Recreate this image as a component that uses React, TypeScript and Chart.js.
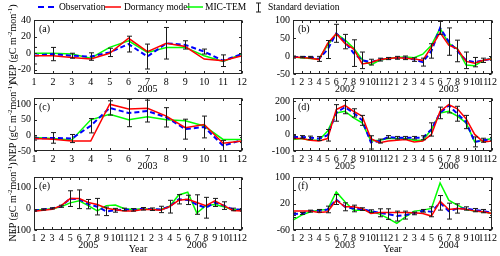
import React, { useEffect, useRef } from "react";
import { Chart, registerables } from "chart.js";
Chart.register(...registerables);

const FONT = '"Liberation Serif", "Times New Roman", Times, serif';

const months12 = ["1", "2", "3", "4", "5", "6", "7", "8", "9", "10", "11", "12"];
const months24 = [...months12, ...months12];

// (a) 2005
const aObs = [-3, -1, -3, -4, 1, 11, -4, 12, 10, 2, -9, -1];
const aSd = [10, 8, 3, 4.5, 5, 9.5, 15, 19, 5, 3, 7, 10];
const aDorm = [-3, -3, -5, -7, 0, 18, 2, 12, 8, -7, -9, -3];
const aMic = [0, 0, -1, -6, 7, 15, 1, 7, 7, -3, -10, -1];
const aYTicks = [-20, 0, 20, 40];
const aYears = ["2005"];

// (b) 2002-2003
const bObs = [-3, -3, -3, -8, 18, 63, 40, 8, -12, -17, -10, -7, -5, -5, -10, -17, 14, 78, 40, 14, -12, -17, -12, -8];
const bSd = [3, 2, 2, 7, 25, 25, 20, 37, 23, 8, 4, 3, 4, 5, 5, 11, 20, 18, 38, 30, 23, 13, 6, 4];
const bDorm = [-3, -4, -6, -10, 35, 62, 35, 20, -22, -18, -10, -7, -5, -6, -8, -12, 25, 65, 30, 20, -15, -20, -12, -8];
const bMic = [-3, -5, -7, -8, 30, 62, 45, 22, -10, -25, -12, -7, -4, -3, -5, 5, 30, 77, 35, 20, -25, -27, -12, -7];
const bYTicks = [-50, 0, 50, 100];
const bYears = ["2002", "2003"];

// (c) 2003
const cObs = [-10, -8, -10, 31, 88, 72, 78, 58, 20, 27, -33, -15];
const cSd = [5, 17, 13, 23, 23, 44, 35, 31, 32, 35, 17, 8];
const cDorm = [-10, -12, -18, -18, 100, 85, 87, 62, 25, 35, -25, -18];
const cMic = [-7, -10, -15, 50, 68, 50, 60, 50, 47, 30, -13, -13];
const cYTicks = [-50, 0, 50, 100];
const cYears = ["2003"];

// (d) 2005-2006
const dObs = [-15, -15, -20, -25, -5, 130, 165, 130, 85, -48, -40, -15, -20, -20, -20, -20, 30, 130, 175, 125, 75, -45, -35, -28];
const dSd = [8, 8, 10, 12, 35, 50, 40, 25, 30, 40, 12, 8, 8, 8, 8, 12, 40, 35, 45, 45, 40, 30, 12, 10];
const dDorm = [-25, -25, -35, -40, -25, 150, 175, 140, 110, -25, -50, -40, -35, -30, -45, -40, 0, 140, 180, 155, 95, 0, -45, -40];
const dMic = [-30, -25, -35, -35, 20, 130, 140, 100, 70, -40, -35, -25, -25, -25, -35, -35, 30, 130, 140, 110, 70, -45, -35, -25];
const dYTicks = [-100, 0, 100, 200];
const dYears = ["2005", "2006"];

// (e) 2005-2006
const eObs = [-8, -3, 2, 12, 48, 45, 22, 10, -12, -7, -3, -5, 0, -2, -3, 10, 45, 42, 20, 5, 30, 15, -3, -5];
const eSd = [3, 3, 3, 5, 37, 44, 22, 39, 20, 9, 6, 6, 6, 6, 15, 30, 22, 22, 46, 49, 19, 18, 6, 6];
const eDorm = [-12, -7, -2, 15, 48, 48, 30, 20, 3, -5, -10, -10, -3, -3, -7, 10, 40, 45, 30, 15, 37, 15, -8, -10];
const eMic = [-5, -5, 0, 10, 28, 38, 15, -10, 15, 18, 0, -3, 0, -3, -3, 12, 65, 78, -20, 15, 20, 10, -5, -3];
const eYTicks = [-100, 0, 100];
const eYears = ["2005", "2006"];

// (f) 2003-2004
const fObs = [-12, -10, -3, -2, 2, 32, 10, 5, 3, -3, -8, -12, -18, -15, -10, -2, -5, 22, -3, 5, 5, 0, -3, -8];
const fSd = [4, 3, 3, 4, 10, 15, 12, 10, 4, 4, 12, 16, 15, 12, 4, 4, 15, 22, 24, 14, 5, 5, 5, 8];
const fDorm = [-3, -3, -3, -7, -5, 30, 10, 10, 5, -10, -7, -7, -7, -7, -8, -10, -18, 27, 2, 5, 3, -3, -5, -10];
const fMic = [-30, -15, -5, 0, 2, 55, 25, 0, 0, -3, -12, -25, -40, -20, -3, 0, 5, 82, 30, 15, 2, -3, -5, -10];
const fYTicks = [-60, -20, 20, 60, 100];
const fYears = ["2003", "2004"];

const seriesNames = ["Observation", "Dormancy model", "MIC-TEM", "Standard deviation"];

type Spec = {
  letter: string;
  labels: string[];
  obs: number[];
  sd: number[];
  dorm: number[];
  mic: number[];
  yMin: number;
  yMax: number;
  yTicks: number[];
  years: string[];
  xTitle: boolean;
  left: number;
  top: number;
  w: number;
  h: number;
};

const L = 34, LW = 208, R = 293, RW = 199;
const panels: Spec[] = [
  { letter: "(a)", labels: months12, obs: aObs, sd: aSd, dorm: aDorm, mic: aMic, yMin: -25, yMax: 40, yTicks: aYTicks, years: aYears, xTitle: false, left: L, top: 17, w: LW, h: 57 },
  { letter: "(b)", labels: months24, obs: bObs, sd: bSd, dorm: bDorm, mic: bMic, yMin: -50, yMax: 100, yTicks: bYTicks, years: bYears, xTitle: false, left: R, top: 17, w: RW, h: 57 },
  { letter: "(c)", labels: months12, obs: cObs, sd: cSd, dorm: cDorm, mic: cMic, yMin: -50, yMax: 120, yTicks: cYTicks, years: cYears, xTitle: false, left: L, top: 95, w: LW, h: 56 },
  { letter: "(d)", labels: months24, obs: dObs, sd: dSd, dorm: dDorm, mic: dMic, yMin: -100, yMax: 220, yTicks: dYTicks, years: dYears, xTitle: false, left: R, top: 95, w: RW, h: 56 },
  { letter: "(e)", labels: months24, obs: eObs, sd: eSd, dorm: eDorm, mic: eMic, yMin: -100, yMax: 150, yTicks: eYTicks, years: eYears, xTitle: true, left: L, top: 174, w: LW, h: 56 },
  { letter: "(f)", labels: months24, obs: fObs, sd: fSd, dorm: fDorm, mic: fMic, yMin: -60, yMax: 100, yTicks: fYTicks, years: fYears, xTitle: true, left: R, top: 174, w: RW, h: 56 },
];

const YW = 30, PT = 6, PR = 8, XH = 26;
const AX = "#262626";

function makePlugin(spec: Spec) {
  return {
    id: "decor" + spec.letter,
    afterDatasetsDraw(chart: any) {
      const { ctx, chartArea: ca, scales } = chart;
      const x = scales.x, y = scales.y;
      ctx.save();
      // error bars
      ctx.save();
      ctx.beginPath();
      ctx.rect(ca.left, ca.top, ca.right - ca.left, ca.bottom - ca.top);
      ctx.clip();
      ctx.strokeStyle = "#1a1a1a";
      ctx.lineWidth = 1;
      spec.obs.forEach((v, i) => {
        const px = Math.round(x.getPixelForValue(i)) + 0.5;
        const yt = y.getPixelForValue(v + spec.sd[i]);
        const yb = y.getPixelForValue(v - spec.sd[i]);
        ctx.beginPath();
        ctx.moveTo(px, yt);
        ctx.lineTo(px, yb);
        ctx.moveTo(px - 2.5, yt);
        ctx.lineTo(px + 2.5, yt);
        ctx.moveTo(px - 2.5, yb);
        ctx.lineTo(px + 2.5, yb);
        ctx.stroke();
      });
      ctx.restore();
      // frame
      ctx.strokeStyle = AX;
      ctx.lineWidth = 1;
      const l = Math.round(ca.left) + 0.5, r = Math.round(ca.right) - 0.5;
      const t = Math.round(ca.top) + 0.5, b = Math.round(ca.bottom) - 0.5;
      ctx.strokeRect(l, t, r - l, b - t);
      ctx.beginPath();
      spec.labels.forEach((_, i) => {
        const px = Math.round(x.getPixelForValue(i)) + 0.5;
        ctx.moveTo(px, b);
        ctx.lineTo(px, b - 2.5);
        ctx.moveTo(px, t);
        ctx.lineTo(px, t + 2.5);
      });
      spec.yTicks.forEach((v) => {
        const py = Math.round(y.getPixelForValue(v)) + 0.5;
        ctx.moveTo(l, py);
        ctx.lineTo(l + 2.5, py);
        ctx.moveTo(r, py);
        ctx.lineTo(r - 2.5, py);
      });
      ctx.stroke();
      // letter
      ctx.fillStyle = "#000";
      ctx.font = `10px ${FONT}`;
      ctx.textAlign = "left";
      ctx.textBaseline = "middle";
      ctx.fillText(spec.letter, ca.left + 5, ca.top + 9);
      // years
      ctx.textAlign = "center";
      spec.years.forEach((yr, k) => {
        const px = x.getPixelForValue(6 + 12 * k);
        ctx.fillText(yr, px, ca.bottom + 15);
      });
      if (spec.xTitle) {
        ctx.fillText("Year", (ca.left + ca.right) / 2, ca.bottom + 19);
      }
      ctx.restore();
    },
  };
}

function Panel({ spec }: { spec: Spec }) {
  const ref = useRef<HTMLCanvasElement>(null);
  const cw = spec.w + YW + PR;
  const ch = spec.h + PT + XH;
  useEffect(() => {
    const chart = new Chart(ref.current as HTMLCanvasElement, {
      type: "line",
      data: {
        labels: spec.labels,
        datasets: [
          { label: seriesNames[1], data: spec.dorm, borderColor: "#ff0000", borderWidth: 1.5, pointRadius: 0, tension: 0, fill: false },
          { label: seriesNames[0], data: spec.obs, borderColor: "#0000ff", borderWidth: 2, borderDash: [5, 3], pointRadius: 0, tension: 0, fill: false },
          { label: seriesNames[2], data: spec.mic, borderColor: "#00ff00", borderWidth: 1.5, pointRadius: 0, tension: 0, fill: false },
        ],
      },
      options: {
        animation: false,
        responsive: false,
        maintainAspectRatio: false,
        events: [],
        layout: { padding: { top: PT, right: PR, left: 0, bottom: 0 } },
        plugins: { legend: { display: false }, tooltip: { enabled: false } },
        scales: {
          x: {
            type: "category",
            offset: false,
            grid: { display: false, drawTicks: false },
            border: { display: false },
            ticks: { autoSkip: false, maxRotation: 0, minRotation: 0, padding: 2, color: "#000", font: { family: FONT, size: 10 } },
            afterFit(s: any) { s.height = XH; },
          },
          y: {
            type: "linear",
            min: spec.yMin,
            max: spec.yMax,
            grid: { display: false, drawTicks: false },
            border: { display: false },
            ticks: { padding: 3, color: "#000", font: { family: FONT, size: 10 } },
            afterBuildTicks(s: any) { s.ticks = spec.yTicks.map((v) => ({ value: v })); },
            afterFit(s: any) { s.width = YW; },
          },
        },
      },
      plugins: [makePlugin(spec)],
    } as any);
    return () => chart.destroy();
  }, []);
  return (
    <canvas
      ref={ref}
      width={cw}
      height={ch}
      style={{ position: "absolute", left: spec.left - YW, top: spec.top - PT, width: cw, height: ch }}
    />
  );
}

function YTitle({ cy }: { cy: number }) {
  return (
    <div
      style={{
        position: "absolute",
        left: 11,
        top: cy,
        transform: "translate(-50%, -50%) rotate(-90deg)",
        fontFamily: FONT,
        fontSize: 10,
        whiteSpace: "nowrap",
        lineHeight: "12px",
        color: "#000",
      }}
    >
      NEP (gC m<sup style={{ fontSize: 7, verticalAlign: "4px" }}>-2</sup>mon<sup style={{ fontSize: 7, verticalAlign: "4px" }}>-1</sup>)
    </div>
  );
}

function Legend() {
  const txt: React.CSSProperties = { position: "absolute", top: 1, fontFamily: FONT, fontSize: 9.5, whiteSpace: "nowrap", lineHeight: "12px", color: "#000" };
  return (
    <>
      <svg style={{ position: "absolute", left: 38, top: 4 }} width={17} height={6}>
        <line x1={0} y1={3} x2={17} y2={3} stroke="#0000ff" strokeWidth={2} strokeDasharray="6 4" />
      </svg>
      <div style={{ ...txt, left: 59 }}>{seriesNames[0]}</div>
      <svg style={{ position: "absolute", left: 105, top: 4 }} width={16} height={6}>
        <line x1={0} y1={3} x2={16} y2={3} stroke="#ff0000" strokeWidth={1.5} />
      </svg>
      <div style={{ ...txt, left: 124 }}>{seriesNames[1]}</div>
      <svg style={{ position: "absolute", left: 187, top: 4 }} width={16} height={6}>
        <line x1={0} y1={3} x2={16} y2={3} stroke="#00ff00" strokeWidth={1.5} />
      </svg>
      <div style={{ ...txt, left: 205 }}>{seriesNames[2]}</div>
      <svg style={{ position: "absolute", left: 255, top: 2 }} width={7} height={11}>
        <line x1={3.5} y1={1} x2={3.5} y2={10} stroke="#1a1a1a" strokeWidth={1} />
        <line x1={1} y1={1} x2={6} y2={1} stroke="#1a1a1a" strokeWidth={1} />
        <line x1={1} y1={10} x2={6} y2={10} stroke="#1a1a1a" strokeWidth={1} />
      </svg>
      <div style={{ ...txt, left: 268 }}>{seriesNames[3]}</div>
    </>
  );
}

export default function App() {
  return (
    <div style={{ position: "fixed", left: 0, top: 0, width: 500, height: 256, background: "#fff", overflow: "hidden" }}>
      {panels.map((p) => (
        <Panel key={p.letter} spec={p} />
      ))}
      <YTitle cy={44} />
      <YTitle cy={122} />
      <YTitle cy={202} />
      <Legend />
    </div>
  );
}
